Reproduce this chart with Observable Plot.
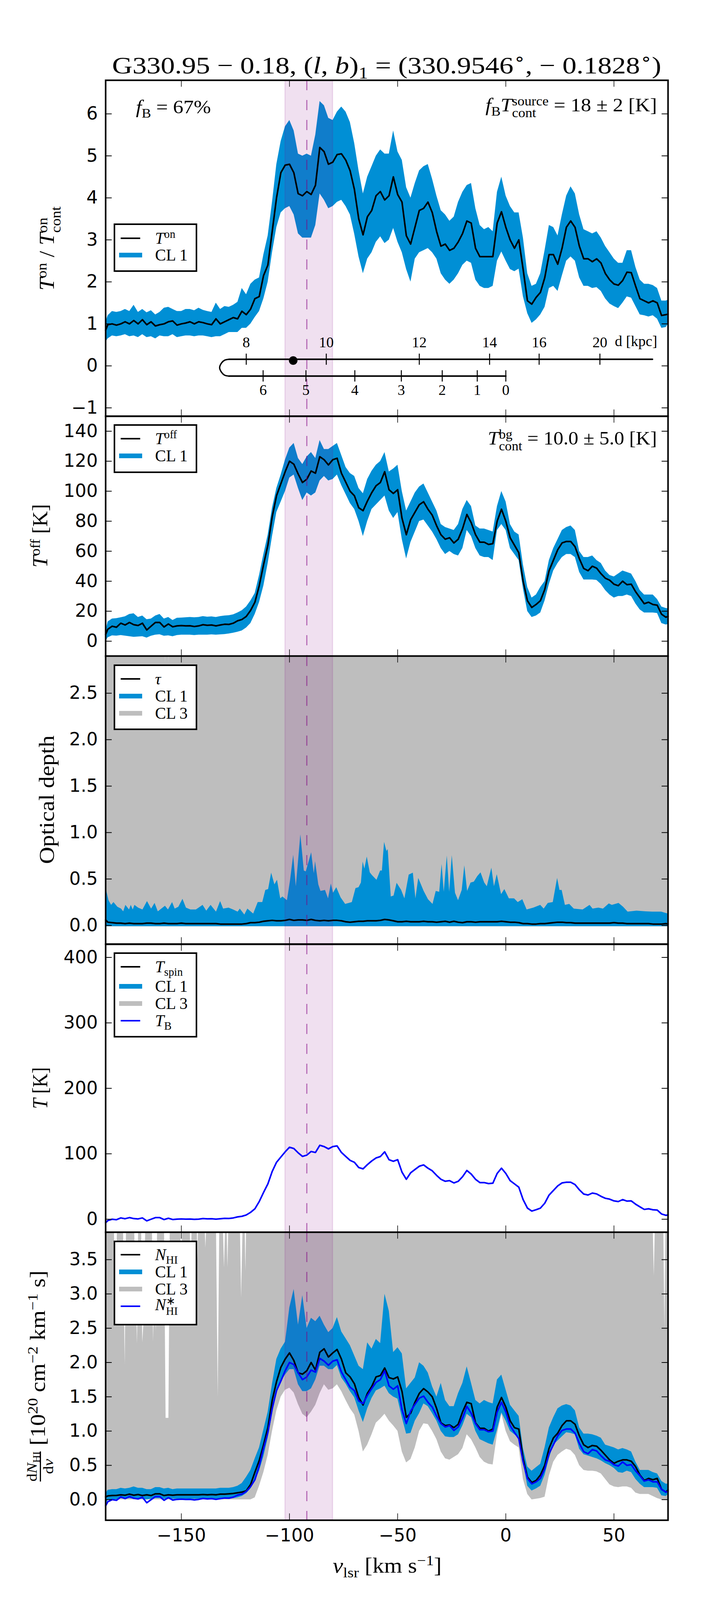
<!DOCTYPE html>
<html>
<head>
<meta charset="utf-8">
<script src="https://cdn.jsdelivr.net/npm/d3@7"></script>
<script src="https://cdn.jsdelivr.net/npm/@observablehq/plot@0.6"></script>
<style>
  html, body { margin: 0; background: white; }
  #chart { position: relative; width: 1800px; height: 4096px; overflow: hidden; }
  .math { position: absolute; left: 0; top: 0; font-family: "Liberation Serif", serif; white-space: nowrap; line-height: 1; color: black; transform-origin: 0 0; }
  .math sub, .math sup { font-size: .68em; line-height: 0; }
  .ss { display: inline-flex; flex-direction: column; vertical-align: middle; font-size: .68em; line-height: .92; text-align: left; }
  .frac { display: inline-flex; flex-direction: column; vertical-align: middle; font-size: .68em; line-height: 1.05; text-align: center; }
  .frac > span:first-child { border-bottom: 3px solid black; }
  .legend { position: absolute; box-sizing: border-box; background: white; border: 4px solid black; }
  .legend .sw { position: absolute; }
  .legend .lab { position: absolute; font-family: "Liberation Serif", serif; font-size: 42px; line-height: 1; white-space: nowrap; transform: translateY(-50%); }
  .legend sub, .legend sup { font-size: .68em; line-height: 0; }
</style>
</head>
<body>
<div id="chart"></div>
<script>
// channels shared by all panels, km/s
const vlsr = [
  -185,-184,-182,-180,-178,-176,-174,-172,-170,-168,
  -166,-164,-162,-160,-158,-156,-154,-152,-150,-148,
  -146,-144,-142,-140,-138,-136,-134,-132,-130,-128,
  -126,-124,-122,-120,-118,-116,-114,-112,-110,-108,
  -106,-104,-102,-100,-98,-96,-94,-92,-90,-88,
  -86,-84,-82,-80,-78,-76,-74,-72,-70,-68,
  -66,-64,-62,-60,-58,-56,-54,-52,-50,-48,
  -46,-44,-42,-40,-38,-36,-34,-32,-30,-28,
  -26,-24,-22,-20,-18,-16,-14,-12,-10,-8,
  -6,-4,-2,0,2,4,6,8,10,12,
  14,16,18,20,22,24,26,28,30,32,
  34,36,38,40,42,44,46,48,50,52,
  54,56,58,60,62,64,66,68,70,72,
  74,75
];

const ton = [
  .85,.98,1.0,.97,1.0,1.05,1.0,1.08,1.0,1.1,
  .98,1.05,.95,.98,1.0,1.05,1.07,.97,1.0,1.02,
  1.05,1.0,1.05,1.03,1.0,.98,1.12,1.0,1.05,1.1,
  1.15,1.12,1.3,1.22,1.35,1.6,1.65,2.15,2.4,3.2,
  4.0,4.6,4.78,4.8,4.6,4.1,4.05,4.15,4.08,4.3,
  5.2,5.1,4.8,4.85,5.03,5.05,4.9,4.65,4.2,3.5,
  3.12,3.55,3.7,4.05,4.15,3.95,4.05,4.5,4.08,3.9,
  3.1,2.9,3.3,3.7,3.75,3.9,3.65,3.2,2.85,2.9,
  2.75,2.8,2.95,3.15,3.45,3.4,2.8,2.6,2.6,2.6,
  2.6,3.4,3.67,3.3,3.0,2.8,3.0,2.3,1.55,1.47,
  1.63,1.75,2.1,2.65,2.65,2.42,2.8,3.3,3.45,3.3,
  2.85,2.55,2.55,2.48,2.55,2.45,2.2,2.05,1.95,1.92,
  2.03,2.23,2.22,1.9,1.6,1.55,1.5,1.55,1.5,1.2,
  1.22,1.23
];
const tonHigh = [
  1.05,1.2,1.3,1.28,1.3,1.35,1.3,1.45,1.28,1.35,
  1.27,1.32,1.22,1.28,1.38,1.4,1.35,1.3,1.3,1.35,
  1.35,1.32,1.38,1.33,1.3,1.28,1.5,1.35,1.42,1.4,
  1.45,1.52,1.85,1.7,1.95,2.05,2.1,2.65,3.1,3.9,
  4.8,5.35,5.7,5.85,5.6,5.05,5.0,5.05,5.0,5.5,
  6.3,6.2,5.9,5.85,6.05,6.17,6.05,5.8,5.3,4.65,
  4.1,4.5,4.75,5.0,5.15,5.05,5.05,5.6,5.1,4.9,
  4.25,4.0,4.35,4.65,4.75,4.8,4.45,4.05,3.7,3.6,
  3.45,3.55,3.9,4.14,4.3,4.35,3.75,3.35,3.25,3.3,
  3.2,4.14,4.5,4.05,3.8,3.65,3.65,3.05,2.2,1.9,
  1.95,2.2,2.75,3.35,3.3,3.1,3.6,4.05,4.27,4.1,
  3.6,3.25,3.2,3.15,3.2,3.05,2.85,2.7,2.55,2.45,
  2.45,2.75,2.75,2.35,2.05,1.95,1.95,1.92,1.85,1.55,
  1.55,1.57
];
const tonLow = [
  .57,.65,.72,.7,.72,.75,.7,.72,.68,.75,
  .68,.7,.65,.72,.7,.7,.75,.68,.7,.72,
  .72,.7,.72,.72,.7,.68,.7,.7,.75,.8,
  .8,.8,.9,.9,1.0,1.16,1.3,1.6,2.0,2.7,
  3.3,3.65,3.75,3.8,3.6,3.15,3.05,3.05,3.05,3.35,
  4.1,3.95,3.75,3.8,3.9,3.95,3.8,3.6,3.14,2.6,
  2.2,2.55,2.7,2.95,3.08,2.92,3.0,3.28,2.95,2.7,
  2.3,2.0,2.55,2.7,2.75,2.8,2.7,2.55,2.2,2.05,
  1.95,2.05,2.2,2.4,2.5,2.45,2.05,1.9,1.85,1.85,
  1.9,2.5,2.72,2.5,2.3,2.25,2.31,1.65,1.25,1.02,
  1.1,1.22,1.4,1.85,1.9,1.78,2.15,2.5,2.6,2.5,
  2.1,1.9,1.9,1.85,1.87,1.78,1.6,1.48,1.42,1.37,
  1.5,1.65,1.62,1.42,1.22,1.2,1.17,1.2,1.12,.9,
  .92,1.0
];

const toff = [
  4.5,8,10,9.3,12,10.8,12.5,11,10.5,12,
  7.5,10,12.5,12.5,9.5,11.5,9.6,10.2,10.4,10.2,
  10.3,9.8,10.2,11,10.6,10.8,10.2,10.8,11.3,11.2,
  12,13.6,14.5,16.5,20.5,26,37,51,64,83,
  97,105,113,120,118,111.5,105.8,108,113.5,112,
  123,121,117.5,121,122,112,106,100,97,89,
  87,93.4,99,103.6,105.8,113,101,98.5,101,82,
  71,81,86,91,93,88,84,77,71,68,
  69,65.5,68,75,84.5,79,71,66,66,64.5,
  65,80,88,80,69,64,59,40,27,22.5,
  24.5,27,34.5,47,54,61,65.5,66.5,66.5,63,
  55,48.5,47,50,48.7,45,42,40.7,38,37,
  40,37.7,38,33,29,25,26,24.5,24,18,
  16,16.6
];
const toffHigh = [
  7,13,15,15.2,15.8,16.5,18,18.5,16,17,
  14.5,15,17,18,15,16,14,15.5,15.6,15.8,
  16,15.8,16,16.6,16.2,16.4,16,16.6,17,17.2,
  17.8,19,20.5,23,27,32,44,58,71,89,
  102,111,121,129,132,122,118,123,126,122,
  134,128,128,130,132,124,116,112,110,102,
  98.5,108,113.5,117.5,120,126,113,115,117.5,100,
  87,93,99,103,105,99,93,87,78,76,
  75,74,78,88,94,90,77,75,75,74,
  73,90,100,93,78,73,71,51,36,29,
  31,36,40,54,62,68,74,76,77,74,
  60,56,56,57,54,52,47,44,43,45,
  47,46,45,40,34,31,31,31,28,23,
  22,21.8
];
const toffLow = [
  0,2.5,3.8,3.6,4,3.6,3.2,2.8,3,3.2,
  2.3,3.5,4.2,4.5,3.5,3.8,3.2,4,4.2,4.2,
  4.2,4,4.2,4.2,4.2,4.4,4.2,4.4,4.6,5,
  5.5,6.2,7,9,12,18,26,37,52,70,
  86,93,100,109,111,102,94,99,97,99,
  107,110,107,108,111,104,98,92,88,80,
  70,80,88,91,94,97,87,82,86,68,
  55,66,73,80,81,77,73,68,62,58,
  60,58,57,62,74,70,62,57,56,56,
  54,74,78,74,62,58,54,35,20,16,
  17,19,27,38,47,52,56,58,58,56,
  46,41,41,41,40.7,38,34,31,29,30,
  30,31,30,25,21,19,19,19,18.7,12,
  11,11.3
];

const tau = [
  .06,.035,.03,.025,.025,.02,.025,.02,.02,.02,
  .025,.025,.02,.02,.025,.02,.02,.02,.025,.02,
  .02,.02,.02,.02,.02,.02,.02,.015,.015,.015,
  .015,.015,.015,.02,.03,.03,.035,.045,.05,.055,
  .05,.05,.055,.065,.055,.06,.06,.055,.065,.055,
  .05,.055,.05,.055,.055,.05,.04,.035,.04,.045,
  .045,.05,.05,.05,.055,.065,.06,.05,.04,.04,
  .045,.04,.04,.04,.045,.04,.04,.035,.04,.045,
  .035,.045,.035,.03,.04,.04,.035,.04,.04,.04,
  .04,.04,.045,.04,.035,.035,.03,.02,.02,.015,
  .015,.02,.02,.025,.03,.035,.035,.03,.03,.025,
  .025,.025,.025,.025,.025,.025,.025,.025,.03,.025,
  .025,.02,.02,.02,.02,.02,.02,.015,.015,.015,
  .02,.015
];
// the CL1 top of tau has narrow spikes, so it keeps its own channels
const tauTopVel = [
  -184.9,-183.6,-182.4,-181.3,-179.5,-177.8,-176.8,-175.8,-174.1,-173.3,-172.4,-171.6,-169.9,-167.9,-165.8,-163.9,-162.3,-160.8,-157.5,-156.1,
  -154.2,-153,-151.3,-149.4,-147.8,-145.7,-143.2,-140.1,-138.4,-136.4,-133.9,-132,-130.6,-128.1,-126,-123.9,-122.9,-120.8,-119.4,-116.7,
  -114.6,-112.5,-111.1,-109.8,-108.4,-106.9,-105.7,-104.2,-103.2,-101.1,-99.7,-98.2,-97,-94.9,-93.3,-92.4,-89.9,-88.7,-88.1,-86.6,
  -85.6,-83.5,-82.1,-80.8,-79.8,-78.3,-76.3,-74.2,-72.5,-71.1,-69.4,-68,-66.9,-66.1,-65.3,-64.2,-62.8,-61.8,-59.7,-58,
  -57.2,-56.2,-55.1,-54.5,-53.1,-51.8,-50.4,-48.3,-46.8,-44.8,-42.9,-41.7,-40.4,-37.9,-35.9,-33.8,-32.3,-30.7,-29.6,-28.6,
  -27.2,-26.1,-24.9,-23.4,-22,-20.3,-19.1,-17.8,-16.2,-14.7,-13.1,-11.6,-9.9,-8.7,-6.6,-5.4,-4.1,-2.1,-.6,1.5,
  3.9,5.6,7.7,9.7,12.8,16,17.6,19.5,21.8,23.8,24.9,25.9,27.4,29.4,31.5,35.6,38.8,40.2,42.9,45,
  47.7,49.1,52.2,54.3,56.4,60.5,64.7,67.8,71.9,75
];
const tauTop = [
  .40,.27,.22,.25,.2,.18,.15,.22,.17,.22,.17,.22,.19,.17,.26,.18,.24,.15,.21,.17,
  .25,.18,.2,.285,.19,.17,.17,.22,.157,.22,.147,.26,.18,.19,.17,.147,.18,.115,.18,.126,
  .25,.25,.38,.39,.566,.44,.49,.29,.31,.27,.48,.76,.42,.98,.59,.58,.786,.56,.69,.44,
  .37,.38,.29,.45,.35,.41,.3,.23,.24,.25,.4,.41,.46,.685,.61,.74,.57,.54,.49,.59,
  .59,.897,.8,.82,.31,.32,.457,.38,.29,.545,.566,.29,.51,.37,.28,.23,.37,.36,.66,.36,
  .75,.36,.755,.35,.27,.38,.645,.37,.46,.47,.53,.57,.46,.42,.62,.42,.55,.335,.39,.29,
  .29,.25,.28,.17,.19,.22,.18,.24,.25,.51,.38,.38,.22,.23,.18,.17,.22,.18,.19,.18,
  .235,.22,.24,.2,.147,.157,.15,.147,.147,.126
];
const tauCl1Low = -0.01;
const tauCl3Low = -0.012;
const tauCl3TopVel = [-185,-158,-157.4,-156.9,-156.3,-155.8,-155.3,75];
const tauCl3Top = [4,4,2.82,4,4,2.82,4,4];

const tb = [
  -5.5,-2,0,-.7,2,.8,2.5,1,.5,2,
  -2.5,0,2.5,2.5,-.5,1.5,-.4,.2,.4,.2,
  .3,-.2,.2,1,.6,.8,.2,.8,1.3,1.2,
  2,3.6,4.5,6.5,10.5,16,27,41,54,73,
  87,95,103,110,108,101.5,96,98,103.5,102,
  113,111,107.5,111,112,102,96,90,87,79,
  77,83.4,89,93.6,95.8,103,91,88.5,91,72,
  61,71,76,81,83,78,74,67,61,58,
  59,55.5,58,65,74.5,69,61,56,56,54.5,
  55,70,78,70,59,54,49,30,17,12.5,
  14.5,17,24.5,37,44,51,55.5,56.5,56.5,53,
  45,38.5,37,40,38.7,35,32,30.7,28,27,
  30,27.7,28,23,19,15,16,14.5,14,8,
  6,6.6
];

const nhi = [
  .04,.055,.06,.062,.07,.065,.08,.065,.075,.06,
  .07,.06,.085,.085,.06,.07,.065,.07,.07,.07,
  .07,.07,.07,.075,.07,.075,.07,.08,.08,.085,
  .09,.1,.11,.13,.22,.4,.57,.8,1.05,1.45,
  1.72,1.93,2.05,2.14,2.03,1.85,1.83,1.88,2.0,1.89,
  2.15,2.2,2.08,2.14,2.19,2.05,1.85,1.79,1.69,1.49,
  1.38,1.55,1.65,1.79,1.81,1.92,1.78,1.76,1.79,1.58,
  1.2,1.26,1.42,1.55,1.62,1.57,1.5,1.33,1.12,1.08,
  1.09,1.05,1.1,1.28,1.42,1.4,1.12,1.04,1.04,1.0,
  1.03,1.35,1.49,1.35,1.15,1.05,1.03,.6,.33,.25,
  .28,.36,.5,.75,.9,.97,1.08,1.15,1.15,1.1,
  .93,.8,.76,.79,.78,.72,.65,.58,.53,.56,
  .58,.58,.56,.48,.36,.28,.31,.29,.31,.15,
  .11,.14
];
const nhiStar = [
  -.09,-.03,0,-.01,.04,.015,.045,.02,.01,.035,
  -.045,0,.045,.045,-.01,.03,-.007,.004,.007,.004,
  .005,-.004,.004,.018,.011,.015,.004,.015,.024,.022,
  .036,.066,.08,.12,.19,.29,.49,.75,.98,1.33,
  1.59,1.73,1.88,2.0,1.97,1.85,1.75,1.79,1.89,1.86,
  2.06,2.02,1.96,2.02,2.04,1.86,1.75,1.64,1.59,1.44,
  1.4,1.52,1.62,1.71,1.75,1.88,1.66,1.61,1.66,1.31,
  1.11,1.29,1.39,1.48,1.51,1.42,1.35,1.22,1.11,1.06,
  1.08,1.01,1.06,1.19,1.36,1.26,1.11,1.02,1.02,.99,
  1.0,1.28,1.42,1.28,1.08,.98,.89,.55,.31,.23,
  .26,.31,.45,.67,.8,.93,1.01,1.03,1.03,.97,
  .82,.7,.67,.73,.71,.64,.58,.56,.51,.49,
  .55,.5,.51,.42,.35,.27,.29,.26,.26,.15,
  .11,.12
];
const nhiHigh = [
  .09,.14,.15,.15,.17,.16,.17,.19,.17,.17,
  .15,.15,.18,.18,.16,.17,.15,.16,.16,.16,
  .16,.16,.16,.16,.16,.16,.16,.17,.17,.17,
  .18,.2,.24,.33,.43,.6,.76,1.02,1.28,1.69,
  2.05,2.2,2.3,2.8,3.07,2.55,2.98,2.5,2.65,2.6,
  2.68,2.55,2.44,2.5,2.66,2.45,2.35,2.25,2.1,1.95,
  1.9,2.29,2.2,2.34,2.28,3.0,2.75,2.15,2.22,2.13,
  1.62,1.7,1.78,2.0,1.95,1.85,1.65,1.5,1.7,1.45,
  1.36,1.36,1.55,1.7,1.94,1.7,1.45,1.4,1.45,1.42,
  1.4,1.75,1.82,1.6,1.38,1.3,1.22,.75,.48,.42,
  .47,.52,.76,1.05,1.2,1.33,1.37,1.39,1.37,1.3,
  1.05,.96,.96,.95,.93,.9,.8,.78,.76,.73,
  .75,.73,.7,.55,.43,.43,.43,.4,.38,.27,
  .23,.23
];
const nhiLow = [
  -.07,-.01,0,0,.02,.01,.02,.01,.01,.01,
  0,.01,.02,.02,.01,.01,.01,.01,.01,.01,
  .01,.01,.01,.01,.01,.01,.01,.02,.02,.02,
  .02,.03,.05,.09,.16,.27,.42,.63,.9,1.25,
  1.55,1.72,1.82,1.9,1.9,1.68,1.58,1.58,1.62,1.75,
  1.95,1.95,1.9,1.9,1.96,1.78,1.69,1.58,1.49,1.3,
  1.13,1.33,1.48,1.59,1.62,1.66,1.55,1.5,1.47,1.2,
  .96,.97,1.15,1.26,1.4,1.36,1.26,1.15,1.0,.92,
  .91,.91,.95,1.08,1.25,1.2,1.0,.88,.85,.82,
  .8,1.02,1.27,1.15,1.0,.95,.9,.55,.2,.13,
  .16,.2,.36,.6,.8,.86,.92,.98,.97,.95,
  .74,.66,.64,.62,.6,.57,.53,.5,.46,.4,
  .39,.42,.4,.3,.23,.18,.18,.18,.17,.06,
  .05,.08
];
const nhiCl3Low = [
  0,0,0,0,0,0,0,0,0,0,
  0,0,0,0,0,0,0,0,0,0,
  0,0,0,0,0,0,0,0,0,0,
  0,0,0,0,0,.03,.2,.4,.65,1.0,
  1.3,1.5,1.6,1.63,1.56,1.39,1.25,1.2,1.28,1.38,
  1.55,1.68,1.6,1.62,1.68,1.58,1.45,1.33,1.24,1.0,
  .7,.8,.95,1.12,1.18,1.25,1.15,1.08,1.0,.7,
  .54,.59,.76,1.0,1.11,1.1,1.0,.88,.7,.6,
  .58,.62,.66,.75,.95,.88,.76,.62,.55,.52,
  .51,.95,1.25,1.0,.85,.8,.76,.3,.08,0,
  .01,.02,.04,.35,.55,.65,.7,.74,.72,.65,
  .5,.43,.42,.42,.41,.38,.3,.22,.19,.18,
  .19,.19,.17,.1,.08,.08,.08,.05,.02,0,
  0,0
];
// the CL3 top only enters the frame in narrow slits
const nhiCl3TopVel = [
  -185,-181.2,-180.5,-179.5,-177,-176.1,-175.4,-172,-171,-170.4,-169.8,-168.6,-168,-167.4,-166.4,
  -163.6,-163,-162.4,-161.7,-161,-158,-157.2,-155.9,-155.2,-150.5,-150,-149.3,-146.2,-145.6,-145,
  -143,-142.5,-142,-139.5,-138.8,-138,-134,-133.1,-132.3,-131,-130.2,-129.4,-129.2,-128.6,-128,
  -123,-122.3,-121.4,-120.8,-120.3,-119.8,67.8,68.5,69.2,72.8,73.4,74,75
];
const nhiCl3Top = [
  4.3,4.3,2.49,4.3,4.3,1.96,4.3,4.3,3.0,2.27,4.3,4.3,2.29,2.6,4.3,
  4.3,2.3,3.2,2.46,4.3,4.3,1.19,1.19,4.3,4.3,3.2,4.3,4.3,3.2,4.3,
  4.3,3.5,4.3,4.3,3.67,4.3,4.3,1.49,4.3,4.3,3.38,4.3,4.3,3.38,4.3,
  4.3,2.94,4.3,4.3,3.33,4.3,4.3,3.26,4.3,4.3,2.47,4.3,4.3
];

// distance scale inside the first panel
const farTicks = [-120, -83, -40, -7.5, 15.4, 43.5];
const farLabels = ["8", "10", "12", "14", "16", "20"];
const nearTicks = [-112.2, -92.4, -69.8, -48.3, -29.4, -13.2, 0];
const nearLabels = ["6", "5", "4", "3", "2", "1", "0"];
const farEnds = [-128, 67.8];
const nearEnds = [-128, 0];
const farY = 0.157;
const nearY = -0.243;
const arcV = [-128, -130, -131.4, -132.3, -131.4, -130, -128];
const arcY = [0.157, 0.135, 0.07, -0.043, -0.155, -0.222, -0.243];
const sourceV = -98.3;

const xTicks = [-150, -100, -50, 0, 50];
const xDomain = [-185, 75];
const band = [-102, -80];
const tangent = -92;

const blue = "#008fd5";
const gray = "#bebebe";

// the window is only 4096 px tall, so the 4200 px layout is pressed to fit
const sy = (y) => (y * 4096) / 4200;

const chart = document.getElementById("chart");

function panel({ y0, y1, yDomain, yTicks, yFormat, marks, xAxis }) {
  const top = sy(y0);
  const height = sy(y1) - sy(y0);
  const yLen = (16 / 1440) * 260;
  const xLen = (17 / height) * (yDomain[1] - yDomain[0]);
  const plot = Plot.plot({
    width: 1800,
    height: height + (xAxis ? 110 : 0),
    marginLeft: 270,
    marginRight: 90,
    marginTop: 0,
    marginBottom: xAxis ? 110 : 0,
    style: {
      position: "absolute",
      left: "0px",
      top: top + "px",
      overflow: "visible",
      background: "transparent",
      fontFamily: "DejaVu Sans",
      maxWidth: "none",
    },
    x: { domain: xDomain, axis: null },
    y: { domain: yDomain, axis: null },
    marks: [
      ...marks,
      Plot.ruleY(yTicks, { x1: xDomain[0], x2: xDomain[0] + yLen, stroke: "black", strokeWidth: 2 }),
      Plot.ruleY(yTicks, { x1: xDomain[1] - yLen, x2: xDomain[1], stroke: "black", strokeWidth: 2 }),
      Plot.ruleX(xTicks, { y1: yDomain[0], y2: yDomain[0] + xLen, stroke: "black", strokeWidth: 1.5 }),
      Plot.ruleX(xTicks, { y1: yDomain[1] - xLen, y2: yDomain[1], stroke: "black", strokeWidth: 1.5 }),
      Plot.axisY(yTicks, { tickSize: 0, tickPadding: 20, fontSize: 46, label: null, tickFormat: yFormat }),
      xAxis ? Plot.axisX(xTicks, { tickSize: 0, tickPadding: 22, fontSize: 46, label: null, tickFormat: d3.format("d") }) : null,
      Plot.frame({ stroke: "black", strokeWidth: 4 }),
    ],
  });
  chart.append(plot);
}

const bandMarks = () => [
  Plot.rect([band], { x1: (d) => d[0], x2: (d) => d[1], fill: "purple", fillOpacity: 0.12, stroke: "purple", strokeOpacity: 0.12, strokeWidth: 3 }),
];
const tangentMark = () =>
  Plot.ruleX([tangent], { stroke: "purple", strokeOpacity: 0.5, strokeWidth: 3, strokeDasharray: "26 25" });

panel({
  y0: 210,
  y1: 1092,
  yDomain: [-1.2, 6.8],
  yTicks: [-1, 0, 1, 2, 3, 4, 5, 6],
  yFormat: d3.format("d"),
  marks: [
    Plot.areaY(vlsr, { x: vlsr, y1: tonLow, y2: tonHigh, fill: blue }),
    ...bandMarks(),
    Plot.lineY(ton, { x: vlsr, stroke: "black", strokeWidth: 4 }),
    tangentMark(),
    Plot.line(farEnds, { x: farEnds, y: () => farY, stroke: "black", strokeWidth: 4 }),
    Plot.line(nearEnds, { x: nearEnds, y: () => nearY, stroke: "black", strokeWidth: 4 }),
    Plot.line(arcV, { x: arcV, y: arcY, curve: "catmull-rom", stroke: "black", strokeWidth: 3.5 }),
    Plot.ruleX(farTicks, { y1: farY - 0.135, y2: farY + 0.13, stroke: "black", strokeWidth: 2.5 }),
    Plot.ruleX(nearTicks, { y1: nearY - 0.135, y2: nearY + 0.135, stroke: "black", strokeWidth: 2.5 }),
    Plot.dot([sourceV], { x: (d) => d, y: () => 0.127, r: 11, fill: "black" }),
    Plot.text(farLabels, { x: farTicks, y: () => 0.56, text: (d) => d, fontFamily: "Liberation Serif", fontSize: 38 }),
    Plot.text(nearLabels, { x: nearTicks, y: () => -0.58, text: (d) => d, fontFamily: "Liberation Serif", fontSize: 38 }),
    Plot.text(["d [kpc]"], { x: () => 70, y: () => 0.58, text: (d) => d, textAnchor: "end", fontFamily: "Liberation Serif", fontSize: 38 }),
  ],
});

panel({
  y0: 1092,
  y1: 1722,
  yDomain: [-10, 150],
  yTicks: [0, 20, 40, 60, 80, 100, 120, 140],
  yFormat: d3.format("d"),
  marks: [
    Plot.areaY(vlsr, { x: vlsr, y1: toffLow, y2: toffHigh, fill: blue }),
    ...bandMarks(),
    Plot.lineY(toff, { x: vlsr, stroke: "black", strokeWidth: 4 }),
    tangentMark(),
  ],
});

panel({
  y0: 1722,
  y1: 2478,
  yDomain: [-0.2, 2.9],
  yTicks: [0, 0.5, 1, 1.5, 2, 2.5],
  yFormat: d3.format(".1f"),
  marks: [
    Plot.areaY(xDomain, { x: xDomain, y1: () => tauCl3Low, y2: () => 4, fill: gray, clip: true }),
    Plot.areaY(tauCl3Top, { x: tauCl3TopVel, y1: tauCl3Top, y2: () => 4, fill: "white", clip: true }),
    Plot.areaY(tauTopVel, { x: tauTopVel, y1: () => tauCl1Low, y2: tauTop, fill: blue }),
    ...bandMarks(),
    Plot.lineY(tau, { x: vlsr, stroke: "black", strokeWidth: 4 }),
    tangentMark(),
  ],
});

panel({
  y0: 2478,
  y1: 3234,
  yDomain: [-20, 420],
  yTicks: [0, 100, 200, 300, 400],
  yFormat: d3.format("d"),
  marks: [
    ...bandMarks(),
    Plot.lineY(tb, { x: vlsr, stroke: "#0000ff", strokeWidth: 4 }),
    tangentMark(),
  ],
});

panel({
  y0: 3234,
  y1: 3990,
  yDomain: [-0.3, 3.9],
  yTicks: [0, 0.5, 1, 1.5, 2, 2.5, 3, 3.5],
  yFormat: d3.format(".1f"),
  xAxis: true,
  marks: [
    Plot.areaY(vlsr, { x: vlsr, y1: nhiCl3Low, y2: () => 5, fill: gray, clip: true }),
    Plot.areaY(nhiCl3Top, { x: nhiCl3TopVel, y1: nhiCl3Top, y2: () => 5, fill: "white", clip: true }),
    Plot.areaY(vlsr, { x: vlsr, y1: nhiLow, y2: nhiHigh, fill: blue }),
    ...bandMarks(),
    Plot.lineY(nhi, { x: vlsr, stroke: "black", strokeWidth: 4 }),
    Plot.lineY(nhiStar, { x: vlsr, stroke: "#0000ff", strokeWidth: 4 }),
    tangentMark(),
  ],
});

// math text: real text squeezed or widened to the span it has in the figure
function mathText(html, size, x0, x1, cy) {
  const el = document.createElement("div");
  el.className = "math";
  el.style.fontSize = size + "px";
  el.innerHTML = html;
  chart.append(el);
  const k = (x1 - x0) / el.offsetWidth;
  el.style.transform = `translate(${x0}px, ${sy(cy)}px) scaleX(${k}) translateY(-50%)`;
}
function mathTextV(html, size, cx, y0, y1) {
  const el = document.createElement("div");
  el.className = "math";
  el.style.fontSize = size + "px";
  el.innerHTML = html;
  chart.append(el);
  const k = (sy(y1) - sy(y0)) / el.offsetWidth;
  el.style.transform = `translate(${cx}px, ${sy(y1)}px) rotate(-90deg) scaleX(${k}) translateY(-50%)`;
}

const ss = (a, b) => `<span class="ss"><span>${a}</span><span>${b}</span></span>`;

mathText('G330.95 − 0.18, (<i>l</i>, <i>b</i>)<sub>1</sub> = (330.9546<sup>∘</sup>, − 0.1828<sup>∘</sup>)', 62, 287, 1693, 171);
mathText('<i>f</i><sub>B</sub> = 67%', 48, 348, 540, 281);
mathText(`<i>f</i><sub>B</sub><i>T</i>${ss("source", "cont")} = 18 ± 2 [K]`, 48, 1243, 1682, 281);
mathText(`<i>T</i>${ss("bg", "cont")} = 10.0 ± 5.0 [K]`, 48, 1249, 1682, 1156);
mathText('<i>v</i><sub>lsr</sub> [km s<sup>−1</sup>]', 54, 852, 1131, 4110);

mathTextV(`<i>T</i><sup>on</sup> / <i>T</i>${ss("on", "cont")}`, 54, 126, 542, 763);
mathTextV('<i>T</i><sup>off</sup> [K]', 54, 103, 1323, 1490);
mathTextV('Optical depth', 54, 120, 1931, 2268);
mathTextV('<i>T</i> [K]', 54, 103, 2801, 2911);
mathTextV(`<span class="frac"><span>d<i>N</i><sub>HI</sub></span><span>d<i>v</i></span></span> [10<sup>20</sup> cm<sup>−2</sup> km<sup>−1</sup> s]`, 54, 103, 3335, 3889);

function legend(y0, y1, rows) {
  const top = sy(y0);
  const box = document.createElement("div");
  box.className = "legend";
  box.style.cssText = `left:291px;width:214px;top:${top}px;height:${sy(y1) - top}px`;
  for (const [y, kind, color, label] of rows) {
    const sw = document.createElement("div");
    sw.className = "sw";
    const cy = sy(y) - top - 4;
    if (kind === "line") {
      sw.style.cssText = `left:14px;width:50px;top:${cy - 2}px;height:4px;background:${color}`;
    } else {
      sw.style.cssText = `left:10px;width:59px;top:${cy - 6}px;height:12px;background:${color}`;
    }
    box.append(sw);
    const lab = document.createElement("div");
    lab.className = "lab";
    lab.style.left = "102px";
    lab.style.top = cy + "px";
    lab.innerHTML = label;
    box.append(lab);
  }
  chart.append(box);
}

legend(587, 714, [
  [625, "line", "black", "<i>T</i><sup>on</sup>"],
  [670, "patch", blue, "CL 1"],
]);
legend(1114, 1242, [
  [1152, "line", "black", "<i>T</i><sup>off</sup>"],
  [1197, "patch", blue, "CL 1"],
]);
legend(1744, 1916, [
  [1782, "line", "black", "<i>τ</i>"],
  [1827, "patch", blue, "CL 1"],
  [1872, "patch", gray, "CL 3"],
]);
legend(2500, 2723, [
  [2538, "line", "black", "<i>T</i><sub>spin</sub>"],
  [2589, "patch", blue, "CL 1"],
  [2634, "patch", gray, "CL 3"],
  [2679, "line", "#0000ff", "<i>T</i><sub>B</sub>"],
]);
legend(3257, 3479, [
  [3294, "line", "black", "<i>N</i><sub>HI</sub>"],
  [3339, "patch", blue, "CL 1"],
  [3384, "patch", gray, "CL 3"],
  [3429, "line", "#0000ff", `<i>N</i>${ss("∗", "HI")}`],
]);
</script>
</body>
</html>
